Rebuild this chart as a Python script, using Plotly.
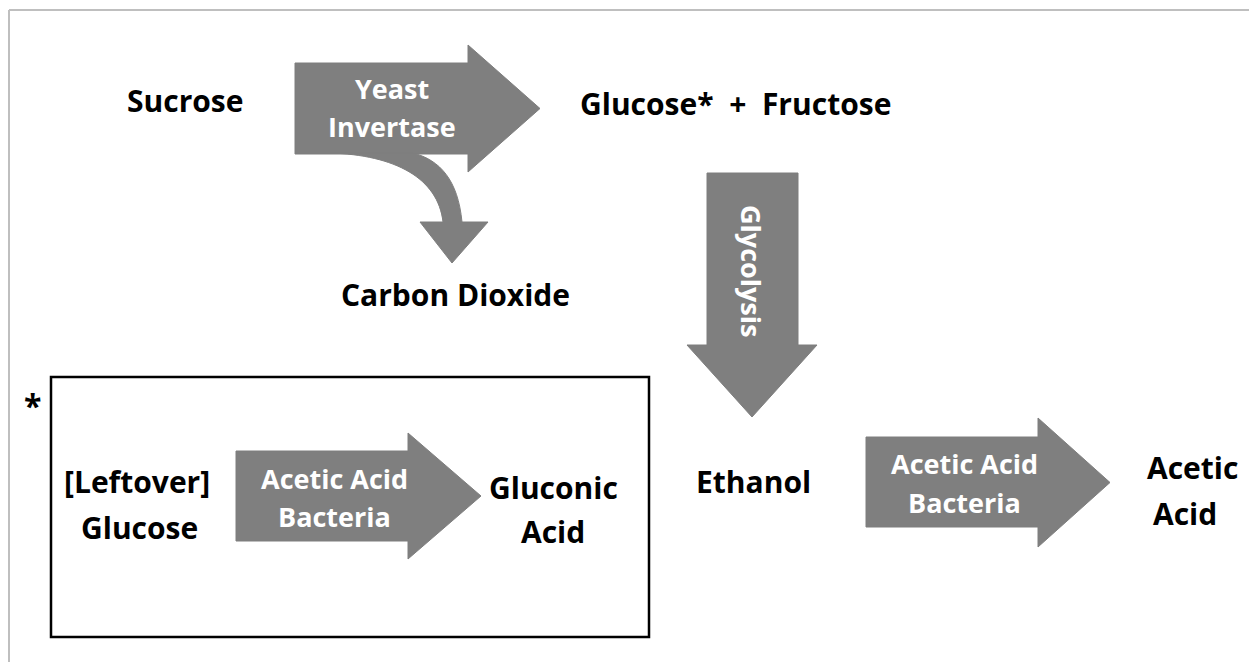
import plotly.graph_objects as go

W, H = 1257, 662
OFF = 8  # page body margin of the html page

# ---- content (text labels, one entry per text line) ----
dark_labels = ["Sucrose", "Glucose*  +  Fructose", "Carbon Dioxide",
               "[Leftover]", "Glucose", "Gluconic", "Acid", "Ethanol",
               "Acetic", "Acid", "*"]
dark_pos = [(185, 100), (735, 103), (455, 294),
            (137, 481), (139, 527), (553, 487), (553, 531), (753, 481),
            (1192, 467), (1185, 513), (32, 405)]
arrow_labels = ["Yeast", "Invertase", "Glycolysis",
                "Acetic Acid", "Bacteria", "Acetic Acid", "Bacteria"]
arrow_label_pos = [(392, 88), (392, 126), (752, 271),
                   (334, 478), (334, 516), (964, 463), (964, 502)]
arrow_label_angle = [0, 0, 90, 0, 0, 0, 0]

# ---- geometry of block arrows ----
right_arrows = [
    # (x0, x1 body end, xtip, ybody0, ybody1, yhead0, yhead1)
    (295, 468, 540, 63, 154, 45, 172),
    (236, 408, 481, 451, 541, 433, 559),
    (866, 1038, 1110, 437, 527, 418, 547),
]
down_arrows = [
    # (xbody0, xbody1, ytop, yhead, xhead0, xhead1, ytip)
    (707, 798, 173, 345, 687, 817, 417),
]

GRAY = "#7f7f7f"
shapes = []

# frame lines (partial border of the picture)
shapes.append(dict(type="line", x0=9, y0=10, x1=W + OFF, y1=10,
                   line=dict(color="#bfbfbf", width=2), layer="below"))
shapes.append(dict(type="line", x0=9, y0=10, x1=9, y1=H + OFF,
                   line=dict(color="#bfbfbf", width=2), layer="below"))

for (x0, x1, xt, yb0, yb1, yh0, yh1) in right_arrows:
    ym = (yh0 + yh1) / 2
    path = (f"M {x0},{yb0} L {x1},{yb0} L {x1},{yh0} L {xt},{ym} "
            f"L {x1},{yh1} L {x1},{yb1} L {x0},{yb1} Z")
    shapes.append(dict(type="path", path=path, fillcolor=GRAY,
                       line=dict(color=GRAY, width=1)))

for (xb0, xb1, yt, yh, xh0, xh1, ytip) in down_arrows:
    xm = (xh0 + xh1) / 2
    path = (f"M {xb0},{yt} L {xb1},{yt} L {xb1},{yh} L {xh1},{yh} "
            f"L {xm},{ytip} L {xh0},{yh} L {xb0},{yh} Z")
    shapes.append(dict(type="path", path=path, fillcolor=GRAY,
                       line=dict(color=GRAY, width=1)))

# curved arrow to carbon dioxide
curve = ("M 330,153 C 395,155 438,178 443,222 L 420,222 L 452,263 "
         "L 488,222 L 462,222 C 458,180 440,160 413,153 Z")
shapes.append(dict(type="path", path=curve, fillcolor=GRAY,
                   line=dict(color=GRAY, width=1)))

# box
shapes.append(dict(type="rect", x0=51, y0=377, x1=649, y1=637,
                   line=dict(color="black", width=2.5)))

annotations = []
FONT = "Open Sans"
for t, (x, y) in zip(dark_labels, dark_pos):
    annotations.append(dict(x=x, y=y, text=f"<b>{t}</b>", showarrow=False,
                            xref="x", yref="y", xanchor="center", yanchor="middle",
                            font=dict(family=FONT, size=30 if t != "*" else 32,
                                      color="black")))
for t, (x, y), a in zip(arrow_labels, arrow_label_pos, arrow_label_angle):
    annotations.append(dict(x=x, y=y, text=f"<b>{t}</b>", showarrow=False,
                            xref="x", yref="y", xanchor="center", yanchor="middle",
                            textangle=a,
                            font=dict(family=FONT, size=27, color="white")))

fig = go.Figure()
fig.update_layout(
    width=W, height=H,
    margin=dict(l=0, r=0, t=0, b=0),
    paper_bgcolor="white", plot_bgcolor="white",
    xaxis=dict(range=[OFF, W + OFF], visible=False, fixedrange=True),
    yaxis=dict(range=[H + OFF, OFF], visible=False, fixedrange=True),
    shapes=shapes, annotations=annotations, showlegend=False,
)
fig.write_html("out.html", config={"displayModeBar": False})
